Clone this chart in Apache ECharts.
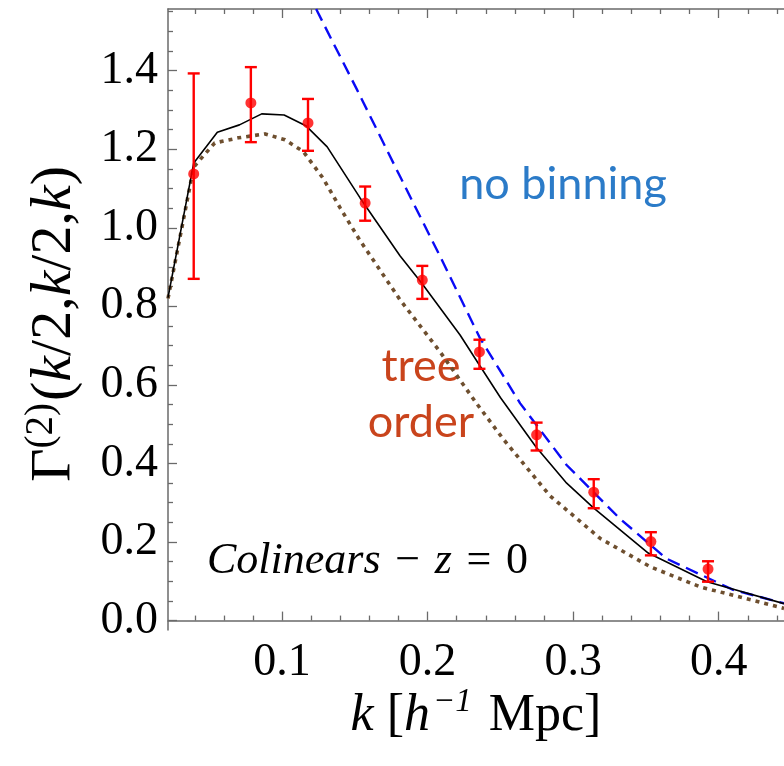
<!DOCTYPE html>
<html><head><meta charset="utf-8">
<script src="https://cdn.jsdelivr.net/npm/echarts@6/dist/echarts.min.js"></script>
<style>html,body{margin:0;padding:0;background:#fff}#c{width:784px;height:766px}</style>
</head><body><div id="c"></div>
<script>
// measured points (k, value, error bounds)
const kPts = [0.03927, 0.07854, 0.11781, 0.15708, 0.19635, 0.23562, 0.27489, 0.31416, 0.35343, 0.39270];
const valPts = [1.137, 1.318, 1.267, 1.063, 0.867, 0.684, 0.473, 0.327, 0.201, 0.131];
const hiPts = [1.393, 1.409, 1.328, 1.105, 0.903, 0.715, 0.504, 0.360, 0.225, 0.151];
const loPts = [0.870, 1.218, 1.196, 1.018, 0.819, 0.641, 0.433, 0.286, 0.166, 0.099];

// solid black curve
const kBlack = [0.0216, 0.0393, 0.0555, 0.0707, 0.086, 0.1014, 0.1163, 0.131, 0.1536, 0.181, 0.196, 0.2223, 0.236, 0.25, 0.2745, 0.295, 0.314, 0.3516, 0.392, 0.4449];
const yBlack = [0.822, 1.165, 1.243, 1.262, 1.290, 1.287, 1.260, 1.206, 1.076, 0.929, 0.859, 0.727, 0.648, 0.568, 0.442, 0.352, 0.287, 0.172, 0.099, 0.043];

// tree order (dotted)
const kTree = [0.0216, 0.0393, 0.0537, 0.07, 0.0883, 0.102, 0.1146, 0.128, 0.14, 0.1533, 0.181, 0.2086, 0.2336, 0.252, 0.284, 0.3186, 0.353, 0.3871, 0.4449];
const yTree = [0.820, 1.155, 1.216, 1.229, 1.239, 1.224, 1.194, 1.127, 1.050, 0.969, 0.817, 0.684, 0.553, 0.462, 0.318, 0.209, 0.137, 0.086, 0.031];

// no binning (dashed)
const kNoBin = [0.1234, 0.134, 0.1513, 0.181, 0.2086, 0.236, 0.2636, 0.2955, 0.332, 0.364, 0.41, 0.4449];
const yNoBin = [1.557, 1.479, 1.353, 1.131, 0.927, 0.719, 0.553, 0.396, 0.260, 0.158, 0.078, 0.044];

const xMajor = [0.1, 0.2, 0.3, 0.4];
const xMinor = [0.04, 0.06, 0.08, 0.12, 0.14, 0.16, 0.18, 0.22, 0.24, 0.26, 0.28, 0.32, 0.34, 0.36, 0.38, 0.42, 0.44];
const yMajor = [0.0, 0.2, 0.4, 0.6, 0.8, 1.0, 1.2, 1.4];
const yMinor = [0.05, 0.1, 0.15, 0.25, 0.3, 0.35, 0.45, 0.5, 0.55, 0.65, 0.7, 0.75, 0.85, 0.9, 0.95, 1.05, 1.1, 1.15, 1.25, 1.3, 1.35, 1.45, 1.5, 1.55];

const X_MIN = 0.0216, X_MAX = 0.4449, Y_MIN = -0.024, Y_MAX = 1.557;

const zip = (a, b) => a.map((v, i) => [v, b[i]]);
const serif = '"Liberation Serif", "Times New Roman", serif';
const axisGray = '#6a6a6a';

function xAx(pos, ticks, len, labels, line) {
  return {
    type: 'value', min: X_MIN, max: X_MAX, position: pos,
    axisLine: { show: line, lineStyle: { color: axisGray, width: 1.5 } },
    axisTick: { show: true, inside: true, length: len, customValues: ticks, lineStyle: { color: axisGray, width: 1.3 } },
    axisLabel: labels ? { show: true, customValues: ticks, fontFamily: serif, fontSize: 46, color: '#000', margin: 10, formatter: v => v.toFixed(1) } : { show: false },
    splitLine: { show: false }
  };
}
function yAx(ticks, len, labels, line) {
  return {
    type: 'value', min: Y_MIN, max: Y_MAX, position: 'left',
    axisLine: { show: line, lineStyle: { color: axisGray, width: 1.5 } },
    axisTick: { show: true, inside: true, length: len, customValues: ticks, lineStyle: { color: axisGray, width: 1.3 } },
    axisLabel: labels ? { show: true, customValues: ticks, fontFamily: serif, fontSize: 46, color: '#000', margin: 10, formatter: v => v.toFixed(1) } : { show: false },
    splitLine: { show: false }
  };
}

const chart = echarts.init(document.getElementById('c'), null, { renderer: 'canvas' });
chart.setOption({
  animation: false,
  backgroundColor: '#fff',
  grid: { left: 168, top: 9, right: 0, bottom: 136, containLabel: false },
  xAxis: [
    xAx('bottom', xMajor, 9, true, true),
    xAx('bottom', xMinor, 5, false, false),
    xAx('top', xMajor, 9, false, true),
    xAx('top', xMinor, 5, false, false)
  ],
  yAxis: [
    yAx(yMajor, 9, true, true),
    yAx(yMinor, 5, false, false)
  ],
  series: [
    {
      type: 'line', name: 'tree', data: zip(kTree, yTree), xAxisIndex: 0, yAxisIndex: 0,
      showSymbol: false, symbol: 'none',
      lineStyle: { color: '#6e4f2f', width: 3.6, type: [4, 5], cap: 'butt', join: 'round' }, z: 2
    },
    {
      type: 'line', name: 'nobin', data: zip(kNoBin, yNoBin), xAxisIndex: 0, yAxisIndex: 0,
      showSymbol: false, symbol: 'none',
      lineStyle: { color: '#0a0af5', width: 2.4, type: [13, 7], join: 'round' }, z: 3
    },
    {
      type: 'line', name: 'full', data: zip(kBlack, yBlack), xAxisIndex: 0, yAxisIndex: 0,
      showSymbol: false, symbol: 'none',
      lineStyle: { color: '#000', width: 1.6, join: 'round' }, z: 4
    },
    {
      type: 'custom', name: 'err', xAxisIndex: 0, yAxisIndex: 0, z: 5,
      data: kPts.map((k, i) => [k, loPts[i], hiPts[i]]),
      renderItem: function (params, api) {
        const lo = api.coord([api.value(0), api.value(1)]);
        const hi = api.coord([api.value(0), api.value(2)]);
        const w = 6;
        const st = { stroke: '#ff0000', lineWidth: 2.4 };
        return {
          type: 'group', children: [
            { type: 'line', shape: { x1: lo[0], y1: lo[1], x2: hi[0], y2: hi[1] }, style: st },
            { type: 'line', shape: { x1: lo[0] - w, y1: lo[1], x2: lo[0] + w, y2: lo[1] }, style: st },
            { type: 'line', shape: { x1: hi[0] - w, y1: hi[1], x2: hi[0] + w, y2: hi[1] }, style: st }
          ]
        };
      }
    },
    {
      type: 'scatter', name: 'pts', data: zip(kPts, valPts), xAxisIndex: 0, yAxisIndex: 0,
      symbol: 'circle', symbolSize: 11, itemStyle: { color: '#ff0000' }, z: 6
    }
  ],
  graphic: [
    {
      type: 'text', x: 55, y: 324, rotation: Math.PI / 2,
      style: {
        text: '{r|Γ}{s|(2)}{r|(}{i|k}{r|/2,}{i|k}{r|/2,}{i|k}{r|)}',
        align: 'center', verticalAlign: 'middle',
        rich: {
          r: { fontFamily: serif, fontSize: 58, fill: '#000', lineHeight: 66 },
          i: { fontFamily: serif, fontSize: 58, fontStyle: 'italic', fill: '#000', lineHeight: 66 },
          s: { fontFamily: serif, fontSize: 39, fill: '#000', verticalAlign: 'top', lineHeight: 66, padding: [0, 2, 0, 0] }
        }
      }
    },
    {
      type: 'text', x: 476, y: 716,
      style: {
        text: '{i|k }{r|[}{i|h}{s|−1}{r| Mpc]}',
        align: 'center', verticalAlign: 'middle',
        rich: {
          r: { fontFamily: serif, fontSize: 52, fill: '#000', lineHeight: 60 },
          i: { fontFamily: serif, fontSize: 52, fontStyle: 'italic', fill: '#000', lineHeight: 60 },
          s: { fontFamily: serif, fontSize: 33, fontStyle: 'italic', fill: '#000', verticalAlign: 'top', lineHeight: 60, padding: [0, 4, 0, 3] }
        }
      }
    },
    {
      type: 'text', x: 207, y: 561,
      style: {
        text: '{i|Colinears}{r| \u200A−\u200A }{i|z}{r| \u200A=\u200A 0}',
        align: 'left', verticalAlign: 'middle',
        rich: {
          r: { fontFamily: serif, fontSize: 44, fontStyle: 'normal', fill: '#000', lineHeight: 50 },
          i: { fontFamily: serif, fontSize: 44, fontStyle: 'italic', fill: '#000', lineHeight: 50 }
        }
      }
    },
    {
      type: 'text', x: 563, y: 184,
      style: { text: 'no binning', fontFamily: 'Lato', fontSize: 45, fill: '#2b7bc8', align: 'center', verticalAlign: 'middle' }
    },
    {
      type: 'text', x: 421, y: 366,
      style: { text: 'tree', fontFamily: 'Lato', fontSize: 45, fill: '#c9441c', align: 'center', verticalAlign: 'middle' }
    },
    {
      type: 'text', x: 421, y: 422,
      style: { text: 'order', fontFamily: 'Lato', fontSize: 45, fill: '#c9441c', align: 'center', verticalAlign: 'middle' }
    }
  ]
});
</script>
</body></html>
